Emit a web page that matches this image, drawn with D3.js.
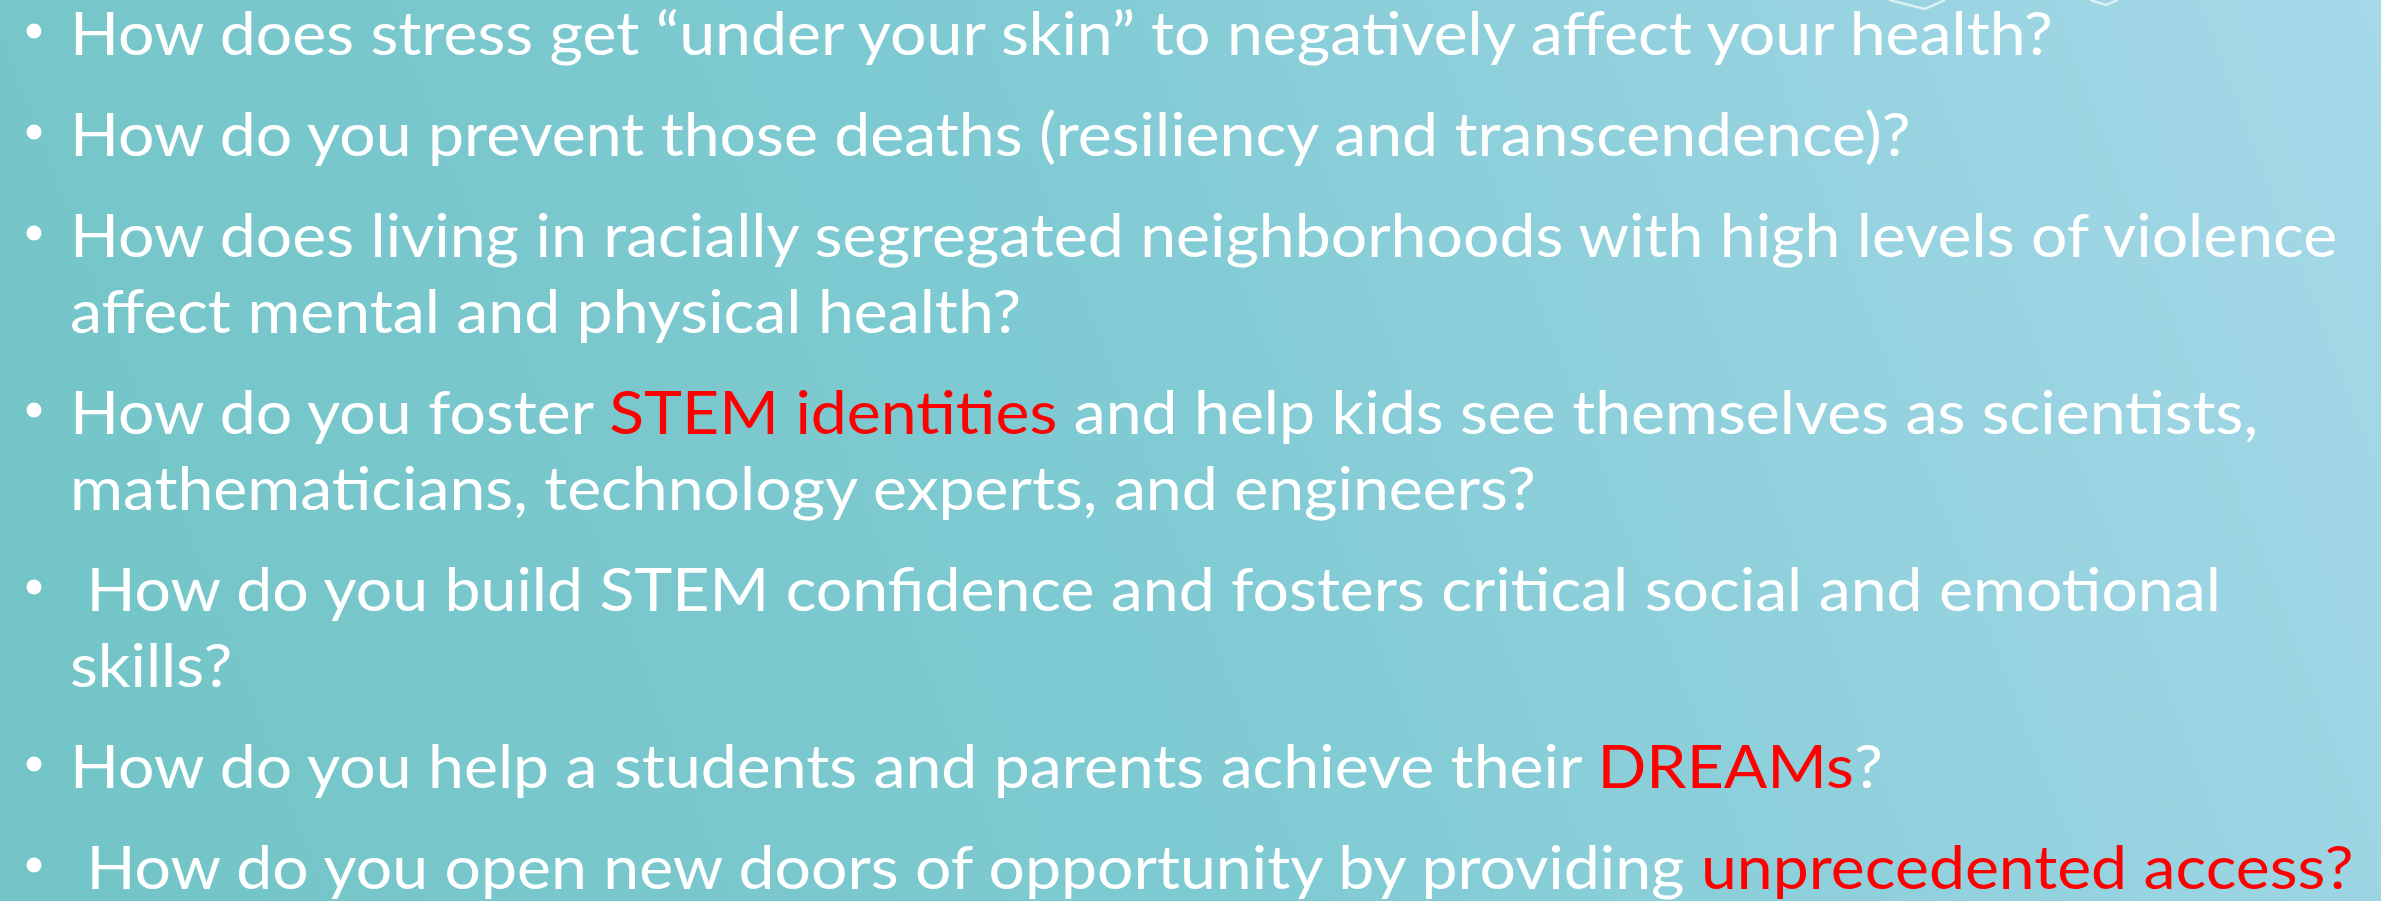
<!DOCTYPE html>
<html>
<head>
<meta charset="utf-8">
<script src="https://cdn.jsdelivr.net/npm/d3@7"></script>
<style>
  html, body { margin: 0; padding: 0; overflow: hidden; background: #7cc8cf; }
  svg { display: block; }
  text { white-space: pre; }
</style>
</head>
<body>
<script>
// ---- content (each bullet = list of lines; each line = list of [text, highlighted]) ----
const bullet1 = [[["How does stress get \u201Cunder your skin\u201D to negatively affect your health?", false]]];
const bullet2 = [[["How do you prevent those deaths (resiliency and transcendence)?", false]]];
const bullet3 = [
  [["How does living in racially segregated neighborhoods with high levels of violence", false]],
  [["affect mental and physical health?", false]]
];
const bullet4 = [
  [["How do you foster ", false], ["STEM identities", true], [" and help kids see themselves as scientists,", false]],
  [["mathematicians, technology experts, and engineers?", false]]
];
const bullet5 = [
  [[" How do you build STEM confidence and fosters critical social and emotional", false]],
  [["skills?", false]]
];
const bullet6 = [[["How do you help a students and parents achieve their ", false], ["DREAMs", true], ["?", false]]];
const bullet7 = [[[" How do you open new doors of opportunity by providing ", false], ["unprecedented access?", true]]];
const bullets = [bullet1, bullet2, bullet3, bullet4, bullet5, bullet6, bullet7];

// ---- layout ----
const W = 2381, H = 901;
const fontFamily = "Lato, 'Open Sans', sans-serif";
const fontSize = 60;
const firstBaseline = 55;
const lineGap = 76;
const paraGap = 101;
const textX = 70;
const bulletX = 34;
const bulletRise = 24;
const bulletR = 7.5;
const line1Width = 1983;
const textColor = "#ffffff";
const hiColor = "#ff0000";

const svg = d3.select("body").append("svg").attr("width", W).attr("height", H);
const defs = svg.append("defs");
const grad = defs.append("linearGradient").attr("id", "bg")
  .attr("gradientUnits", "userSpaceOnUse")
  .attr("x1", 0).attr("y1", H).attr("x2", W).attr("y2", 0);
grad.append("stop").attr("offset", "0%").attr("stop-color", "#72c4c6");
grad.append("stop").attr("offset", "45%").attr("stop-color", "#7ecad2");
grad.append("stop").attr("offset", "100%").attr("stop-color", "#a6d8e8");
svg.append("rect").attr("width", W).attr("height", H).attr("fill", "url(#bg)");

// faint template decoration at the top
const deco = svg.append("g").attr("fill", "none").attr("stroke", "#e4f6f8").attr("stroke-width", 2.5).attr("opacity", 0.85);
deco.append("path").attr("d", d3.line()([[1889, 0], [1925, 9], [1945, 0]]));
deco.append("path").attr("d", d3.line()([[2090, 0], [2106, 5], [2118, 0]]));

// flatten to lines with computed baselines
const flat = [];
let y = firstBaseline;
bullets.forEach((b) => {
  b.forEach((segs, li) => {
    if (li > 0) y += lineGap;
    flat.push({ segs, y, bullet: li === 0 });
  });
  y += paraGap;
});

const g = svg.append("g");
const texts = g.selectAll("text.line").data(flat).join("text")
  .attr("class", "line")
  .attr("font-family", fontFamily)
  .attr("font-size", fontSize)
  .attr("fill", textColor);
texts.selectAll("tspan").data(d => d.segs).join("tspan")
  .attr("fill", d => d[1] ? hiColor : textColor)
  .text(d => d[0]);

// horizontal calibration so the substitute font matches the original's width
const w1 = texts.nodes()[0].getComputedTextLength();
const k = line1Width / w1;
texts.attr("transform", d => `translate(${textX},${d.y}) scale(${k},1)`);

g.selectAll("circle.bullet").data(flat.filter(d => d.bullet)).join("circle")
  .attr("class", "bullet")
  .attr("cx", bulletX).attr("cy", d => d.y - bulletRise).attr("r", bulletR)
  .attr("fill", textColor);
</script>
</body>
</html>
